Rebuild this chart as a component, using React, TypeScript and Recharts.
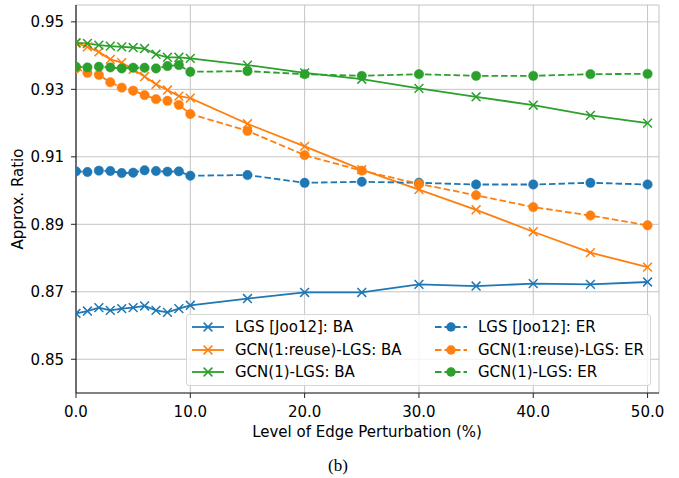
import React from "react";
import {
  LineChart,
  Line,
  XAxis,
  YAxis,
  CartesianGrid,
  Legend,
  Label,
} from "recharts";

const xs = [0, 1, 2, 3, 4, 5, 6, 7, 8, 9, 10, 15, 20, 25, 30, 35, 40, 45, 50];

const lgsBA = [0.8636, 0.8643, 0.8653, 0.8645, 0.865, 0.8653, 0.8658, 0.8645, 0.8639, 0.865, 0.866, 0.868, 0.8698, 0.8698, 0.8722, 0.8717, 0.8724, 0.8722, 0.8729];
const reuseBA = [0.9437, 0.9426, 0.9411, 0.9389, 0.9379, 0.9359, 0.9338, 0.9315, 0.9298, 0.928, 0.9274, 0.9198, 0.9131, 0.9062, 0.9003, 0.8943, 0.8878, 0.8816, 0.8773];
const gcnBA = [0.9438, 0.9436, 0.9431, 0.9428, 0.9426, 0.9424, 0.9421, 0.9404, 0.9395, 0.9395, 0.9392, 0.9372, 0.9349, 0.933, 0.9303, 0.9278, 0.9253, 0.9223, 0.92];
const lgsER = [0.9057, 0.9055, 0.9059, 0.9058, 0.9052, 0.9053, 0.906, 0.9058, 0.9056, 0.9057, 0.9044, 0.9046, 0.9023, 0.9026, 0.9023, 0.9018, 0.9018, 0.9023, 0.9018];
const reuseER = [0.9362, 0.9349, 0.9343, 0.9321, 0.9305, 0.9296, 0.9283, 0.9271, 0.9266, 0.9254, 0.9227, 0.9177, 0.9105, 0.9059, 0.902, 0.8986, 0.8951, 0.8926, 0.8897];
const gcnER = [0.9367, 0.9365, 0.9367, 0.9365, 0.9362, 0.9364, 0.9364, 0.9362, 0.9369, 0.9372, 0.9352, 0.9354, 0.9345, 0.934, 0.9345, 0.934, 0.934, 0.9345, 0.9346];

const xTicks = [0, 10, 20, 30, 40, 50];
const yTicks = [0.85, 0.87, 0.89, 0.91, 0.93, 0.95];

const seriesNames = [
  "LGS [Joo12]: BA",
  "GCN(1:reuse)-LGS: BA",
  "GCN(1)-LGS: BA",
  "LGS [Joo12]: ER",
  "GCN(1:reuse)-LGS: ER",
  "GCN(1)-LGS: ER",
];

const BLUE = "#1f77b4";
const ORANGE = "#ff7f0e";
const GREEN = "#2ca02c";
const FONT = "'DejaVu Sans', sans-serif";
const FS = 15;

const data = xs.map((x, i) => ({
  x,
  lgsBA: lgsBA[i],
  reuseBA: reuseBA[i],
  gcnBA: gcnBA[i],
  lgsER: lgsER[i],
  reuseER: reuseER[i],
  gcnER: gcnER[i],
}));

const xMarker = (color: string) => (props: any) => {
  const { cx, cy, index } = props;
  if (cx == null || cy == null) return <g key={index} />;
  const s = 4.4;
  return (
    <path
      key={index}
      d={`M${cx - s},${cy - s}L${cx + s},${cy + s}M${cx - s},${cy + s}L${cx + s},${cy - s}`}
      stroke={color}
      strokeWidth={1.5}
      fill="none"
    />
  );
};

const dotMarker = (color: string) => (props: any) => {
  const { cx, cy, index } = props;
  if (cx == null || cy == null) return <g key={index} />;
  return <circle key={index} cx={cx} cy={cy} r={4.7} fill={color} stroke={color} strokeWidth={0.5} />;
};

const legendItems = [
  { name: seriesNames[0], color: BLUE, dashed: false },
  { name: seriesNames[1], color: ORANGE, dashed: false },
  { name: seriesNames[2], color: GREEN, dashed: false },
  { name: seriesNames[3], color: BLUE, dashed: true },
  { name: seriesNames[4], color: ORANGE, dashed: true },
  { name: seriesNames[5], color: GREEN, dashed: true },
];

const LegendBox = () => (
  <div
    style={{
      position: "relative",
      width: 465,
      height: 72,
      boxSizing: "border-box",
      border: "1px solid #d6d6d6",
      borderRadius: 3,
      background: "rgba(255,255,255,0.8)",
      fontFamily: FONT,
      fontSize: FS,
      color: "#000",
    }}
  >
    {legendItems.map((it, i) => {
      const col = Math.floor(i / 3);
      const row = i % 3;
      const left = col === 0 ? 4 : 247;
      const top = 12 + row * 22.5;
      return (
        <div key={i}>
          <svg
            width={34}
            height={14}
            style={{ position: "absolute", left, top: top - 7 }}
          >
            <line
              x1={1}
              y1={7}
              x2={33}
              y2={7}
              stroke={it.color}
              strokeWidth={1.8}
              strokeDasharray={it.dashed ? "6.5 3" : undefined}
            />
            {it.dashed ? (
              <circle cx={17} cy={7} r={4.7} fill={it.color} />
            ) : (
              <path d="M12.6,2.6L21.4,11.4M12.6,11.4L21.4,2.6" stroke={it.color} strokeWidth={1.5} />
            )}
          </svg>
          <span
            style={{
              position: "absolute",
              left: col === 0 ? 48 : 291,
              top: top - 10,
              lineHeight: "20px",
              whiteSpace: "nowrap",
            }}
          >
            {it.name}
          </span>
        </div>
      );
    })}
  </div>
);

export default function App() {
  return (
    <div style={{ position: "absolute", left: 0, top: 0, width: 679, height: 478, background: "#fff" }}>
      <LineChart
        width={679}
        height={478}
        data={data}
        margin={{ top: 5, right: 20, bottom: 45, left: 0 }}
      >
        <CartesianGrid stroke="#c4c4c4" strokeWidth={1} />
        <XAxis
          dataKey="x"
          type="number"
          domain={[0, 51]}
          ticks={xTicks}
          tickFormatter={(v: number) => v.toFixed(1)}
          height={40}
          tickSize={5}
          tickMargin={8}
          interval={0}
          allowDataOverflow
          axisLine={{ stroke: "#222", strokeWidth: 1.2 }}
          tickLine={{ stroke: "#222" }}
          tick={{ fill: "#000", fontSize: FS, fontFamily: FONT }}
        >
          <Label
            content={() => (
              <text x={367} y={437} textAnchor="middle" fontSize={FS} fontFamily={FONT} fill="#000">
                Level of Edge Perturbation (%)
              </text>
            )}
          />
        </XAxis>
        <XAxis
          xAxisId="top"
          dataKey="x"
          type="number"
          domain={[0, 51]}
          orientation="top"
          height={0}
          tick={false}
          tickLine={false}
          axisLine={{ stroke: "#222", strokeWidth: 1.2 }}
        />
        <YAxis
          type="number"
          domain={[0.84, 0.955]}
          ticks={yTicks}
          tickFormatter={(v: number) => v.toFixed(2)}
          width={76}
          tickSize={5}
          tickMargin={7}
          interval={0}
          allowDataOverflow
          axisLine={{ stroke: "#222", strokeWidth: 1.2 }}
          tickLine={{ stroke: "#222" }}
          tick={{ fill: "#000", fontSize: FS, fontFamily: FONT }}
        >
          <Label
            content={() => (
              <text
                x={18}
                y={199}
                transform="rotate(-90,18,199)"
                textAnchor="middle"
                dominantBaseline="central"
                fontSize={FS}
                fontFamily={FONT}
                fill="#000"
              >
                Approx. Ratio
              </text>
            )}
          />
        </YAxis>
        <YAxis
          yAxisId="right"
          orientation="right"
          domain={[0.84, 0.955]}
          width={0}
          tick={false}
          tickLine={false}
          axisLine={{ stroke: "#222", strokeWidth: 1.2 }}
        />
        <Legend
          layout="horizontal"
          verticalAlign="middle"
          align="center"
          wrapperStyle={{ left: 186, top: 314, width: 465, height: 72 }}
          content={() => <LegendBox />}
        />
        <Line dataKey="lgsBA" name={seriesNames[0]} stroke={BLUE} strokeWidth={1.8} dot={xMarker(BLUE)} activeDot={false} isAnimationActive={false} />
        <Line dataKey="reuseBA" name={seriesNames[1]} stroke={ORANGE} strokeWidth={1.8} dot={xMarker(ORANGE)} activeDot={false} isAnimationActive={false} />
        <Line dataKey="gcnBA" name={seriesNames[2]} stroke={GREEN} strokeWidth={1.8} dot={xMarker(GREEN)} activeDot={false} isAnimationActive={false} />
        <Line dataKey="lgsER" name={seriesNames[3]} stroke={BLUE} strokeWidth={1.8} strokeDasharray="6.5 3" dot={dotMarker(BLUE)} activeDot={false} isAnimationActive={false} />
        <Line dataKey="reuseER" name={seriesNames[4]} stroke={ORANGE} strokeWidth={1.8} strokeDasharray="6.5 3" dot={dotMarker(ORANGE)} activeDot={false} isAnimationActive={false} />
        <Line dataKey="gcnER" name={seriesNames[5]} stroke={GREEN} strokeWidth={1.8} strokeDasharray="6.5 3" dot={dotMarker(GREEN)} activeDot={false} isAnimationActive={false} />
      </LineChart>
      <div
        style={{
          position: "absolute",
          left: 0,
          top: 456,
          width: 676,
          textAlign: "center",
          fontFamily: "'Liberation Serif', 'Times New Roman', serif",
          fontSize: 17,
          lineHeight: "20px",
          color: "#000",
        }}
      >
        (b)
      </div>
    </div>
  );
}
